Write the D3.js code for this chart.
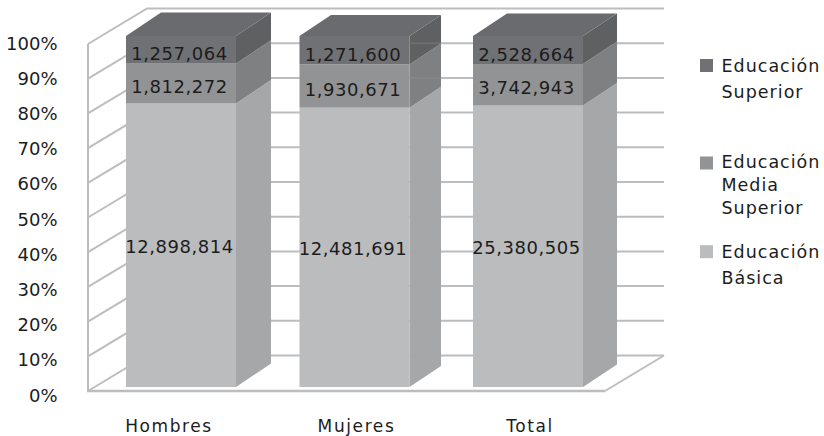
<!DOCTYPE html>
<html><head><meta charset="utf-8">
<script src="https://cdn.jsdelivr.net/npm/d3@7"></script>
<style>html,body{margin:0;background:#fff}svg{display:block}text{font-family:"DejaVu Sans",sans-serif;fill:#1c1c1c}</style>
</head><body><svg id="c" width="824" height="436"></svg>
<script>
const categories = ["Hombres","Mujeres","Total"];
const basica = [12898814,12481691,25380505];
const mediaSuperior = [1812272,1930671,3742943];
const superior = [1257064,1271600,2528664];
const seriesNames = [["Educación","Básica"],["Educación","Media","Superior"],["Educación","Superior"]];
const seriesFront = ["#bbbcbe","#929395","#707175"];
const seriesSide = ["#a6a7a9","#7f8082","#5f6062"];
const topColor = "#6a6b6e";
const gridColor = "#bcbdbf";
const percentTicks = [0,10,20,30,40,50,60,70,80,90,100];

const svg = d3.select("#c");
const wall = {dx:59, dy:-35.5};
const barDepth = [{dx:35,dy:-23.5},{dx:31.5,dy:-21},{dx:34,dy:-22.5}];
const catNudge = [-12,2,2];
const labelNudge = [1,3,4];
const yFront = d3.scaleLinear().domain([0,100]).range([391,44]);
const yBar = d3.scaleLinear().domain([0,100]).range([387,36]);
const yTickLabel = d3.scaleLinear().domain([0,100]).range([395,43]);
const xBand = d3.scaleBand().domain(categories).range([126,583]).paddingInner(0.366).paddingOuter(0);
const frameRight = 605;

const g = svg.append("g").attr("fill","none").attr("stroke",gridColor).attr("stroke-width",2);
g.append("path").attr("d",`M${frameRight},${yFront(0)}L${frameRight+wall.dx},${yFront(0)+wall.dy}`);
percentTicks.forEach(t=>{
  const y=yFront(t);
  g.append("path").attr("d",`M88,${y}L${88+wall.dx},${y+wall.dy}L${frameRight+wall.dx},${y+wall.dy}`);
});
g.append("path").attr("d",`M88,${yFront(0)}L88,${yFront(100)}`);
g.append("path").attr("d",`M87,${yFront(0)}L${frameRight},${yFront(0)}`).attr("stroke-width",2.5);

const stack = d3.stack().keys([0,1,2]).value((d,k)=>d[k]).offset(d3.stackOffsetExpand);
const rows = categories.map((c,i)=>[basica[i],mediaSuperior[i],superior[i]]);
const layers = stack(rows);
const fmt = d3.format(",");
const labelsG = [];
categories.forEach((c,i)=>{
  const x0=xBand(c), w=xBand.bandwidth(), x1=x0+w, bar=barDepth[i];
  layers.forEach((layer,k)=>{
    const yb=yBar(layer[i][0]*100), yt=yBar(layer[i][1]*100);
    svg.append("path").attr("fill",seriesSide[k])
      .attr("d",`M${x1},${yb}L${x1+bar.dx},${yb+bar.dy}L${x1+bar.dx},${yt+bar.dy}L${x1},${yt}Z`);
    svg.append("rect").attr("x",x0).attr("y",yt).attr("width",w).attr("height",yb-yt).attr("fill",seriesFront[k]);
    labelsG.push({x:x0+w/2-1.5,y:(yb+yt)/2+labelNudge[k],v:rows[i][k]});
    if(k===2){
      svg.append("path").attr("fill",topColor)
        .attr("d",`M${x0},${yt}L${x0+bar.dx},${yt+bar.dy}L${x1+bar.dx},${yt+bar.dy}L${x1},${yt}Z`);
    }
  });
  if(i===1){
    [90,80].forEach(t=>svg.append("path").attr("stroke","#9a9b9d").attr("stroke-opacity",0.3).attr("stroke-width",1.5)
      .attr("d",`M${x1},${yFront(t)+wall.dy}L${x1+bar.dx},${yFront(t)+wall.dy}`));
  }
  svg.append("text").attr("x",x0+w/2+catNudge[i]).attr("y",431.5).attr("text-anchor","middle")
    .attr("font-size",17).attr("letter-spacing",1.6).text(c);
});
labelsG.forEach(d=>svg.append("text").attr("x",d.x).attr("y",d.y+6.5).attr("text-anchor","middle")
  .attr("font-size",18).attr("letter-spacing",0.55).text(fmt(d.v)));

percentTicks.forEach(t=>svg.append("text").attr("x",57.5).attr("y",yTickLabel(t)+6.5).attr("text-anchor","end")
  .attr("font-size",18).text(t+"%"));

[0,1,2].forEach(k=>{
  const rowYs=[[252,278],[162,185,208],[66,92]][k];
  const swatchY=[251.7,163,65.5][k];
  svg.append("rect").attr("x",700).attr("y",swatchY-6.5).attr("width",13).attr("height",13).attr("fill",seriesFront[k]);
  seriesNames[k].forEach((s,j)=>svg.append("text").attr("x",721.5).attr("y",rowYs[j]+6).attr("font-size",17.5).attr("letter-spacing",1).text(s));
});
</script></body></html>
